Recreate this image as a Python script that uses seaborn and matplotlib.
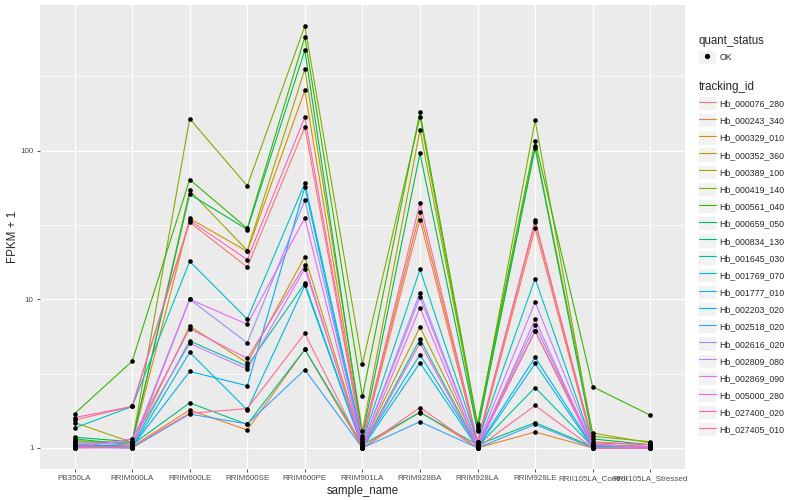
import numpy as np
import pandas as pd
import matplotlib
matplotlib.use("Agg")
import matplotlib.pyplot as plt
import seaborn as sns
from matplotlib.lines import Line2D
from matplotlib.patches import Patch
from matplotlib.legend_handler import HandlerTuple
from matplotlib.ticker import FixedLocator, NullFormatter

# ---- data (FPKM + 1) ----
samples = ["PB350LA", "RRIM600LA", "RRIM600LE", "RRIM600SE", "RRIM600PE",
           "RRIM901LA", "RRIM928BA", "RRIM928LA", "RRIM928LE",
           "RRII105LA_Control", "RRII105LA_Stressed"]

genes = ["Hb_000076_280", "Hb_000243_340", "Hb_000329_010", "Hb_000352_360",
         "Hb_000389_100", "Hb_000419_140", "Hb_000561_040", "Hb_000659_050",
         "Hb_000834_130", "Hb_001645_030", "Hb_001769_070", "Hb_001777_010",
         "Hb_002203_020", "Hb_002518_020", "Hb_002616_020", "Hb_002809_080",
         "Hb_002869_090", "Hb_005000_280", "Hb_027400_020", "Hb_027405_010"]

fpkm = [
    [1.54, 1.90, 33.0, 16.5, 144, 1.10, 34.4, 1.05, 30.0, 1.05, 1.02],
    [1.05, 1.02, 1.80, 1.32, 4.6, 1.00, 1.75, 1.00, 1.28, 1.00, 1.00],
    [1.12, 1.08, 35.0, 21.0, 255, 1.15, 38.6, 1.10, 33.0, 1.08, 1.05],
    [1.02, 1.05, 6.6, 3.74, 19.4, 1.05, 6.5, 1.05, 6.12, 1.05, 1.02],
    [1.48, 1.09, 54.0, 21.3, 354, 1.30, 138, 1.40, 107, 1.26, 1.08],
    [1.10, 1.08, 164, 58.0, 690, 3.68, 169, 1.35, 160, 1.20, 1.10],
    [1.70, 3.83, 64.0, 30.0, 582, 2.22, 181, 1.45, 116, 2.58, 1.66],
    [1.18, 1.10, 51.0, 29.5, 475, 1.20, 96.0, 1.30, 104, 1.15, 1.05],
    [1.15, 1.05, 2.01, 1.44, 4.6, 1.05, 1.73, 1.05, 1.48, 1.02, 1.00],
    [1.05, 1.02, 5.24, 3.55, 12.8, 1.02, 5.4, 1.02, 2.55, 1.02, 1.00],
    [1.36, 1.90, 18.0, 7.36, 60.5, 1.10, 15.9, 1.10, 13.8, 1.05, 1.02],
    [1.02, 1.00, 4.4, 1.80, 12.4, 1.00, 3.74, 1.00, 3.70, 1.00, 1.00],
    [1.05, 1.02, 3.27, 2.62, 57.0, 1.02, 4.24, 1.02, 4.07, 1.02, 1.00],
    [1.02, 1.00, 1.69, 1.45, 3.36, 1.00, 1.50, 1.00, 1.44, 1.00, 1.00],
    [1.08, 1.05, 10.0, 5.1, 46.5, 1.05, 11.1, 1.05, 6.67, 1.05, 1.02],
    [1.05, 1.10, 5.05, 3.39, 16.1, 1.05, 10.3, 1.05, 9.6, 1.05, 1.02],
    [1.00, 1.00, 10.0, 6.8, 35.2, 1.00, 8.8, 1.00, 7.34, 1.00, 1.00],
    [1.00, 1.15, 6.35, 4.0, 16.9, 1.00, 5.08, 1.00, 6.12, 1.00, 1.00],
    [1.60, 1.90, 34.0, 18.5, 168, 1.15, 44.5, 1.10, 34.0, 1.10, 1.05],
    [1.00, 1.02, 1.71, 1.84, 5.9, 1.00, 1.87, 1.00, 1.93, 1.00, 1.00],
]

# ggplot2 default hue palette for 20 levels
colors = ["#F8766D", "#EA8331", "#D89000", "#C09B00", "#A3A500", "#7CAE00",
          "#39B600", "#00BB4E", "#00BF7D", "#00C1A3", "#00BFC4", "#00BAE0",
          "#00B0F6", "#35A2FF", "#9590FF", "#C77CFF", "#E76BF3", "#FA62DB",
          "#FF62BC", "#FF6C91"]

rows = []
for g, vals in zip(genes, fpkm):
    for i, v in enumerate(vals):
        rows.append({"tracking_id": g, "pos": i, "sample_name": samples[i], "fpkm": v})
df = pd.DataFrame(rows)

sns.set_theme(style="darkgrid", rc={"axes.facecolor": "#EBEBEB", "grid.color": "white"})
plt.rcParams["font.family"] = ["Liberation Sans", "DejaVu Sans"]

fig, ax = plt.subplots(figsize=(8, 5), dpi=100)
fig.subplots_adjust(left=0.05, right=0.856, top=0.99, bottom=0.062)

sns.lineplot(data=df, x="pos", y="fpkm", hue="tracking_id", palette=colors,
             hue_order=genes, sort=False, lw=0.8, legend=False, ax=ax)
sns.scatterplot(data=df, x="pos", y="fpkm", color="black", s=11, marker="o",
                linewidth=0, legend=False, ax=ax, zorder=5)

ax.set_yscale("log")
lo, hi = np.log10(df["fpkm"].min()), np.log10(df["fpkm"].max())
r = hi - lo
ax.set_ylim(10 ** (lo - 0.05 * r), 10 ** (hi + 0.05 * r))
ax.set_xlim(-0.6, len(samples) - 0.4)

ax.yaxis.set_major_locator(FixedLocator([1, 10, 100]))
ax.set_yticklabels(["1", "10", "100"])
ax.yaxis.set_minor_locator(FixedLocator([10 ** 0.5, 10 ** 1.5, 10 ** 2.5]))
ax.yaxis.set_minor_formatter(NullFormatter())
ax.set_xticks(range(len(samples)))
ax.set_xticklabels(samples)

ax.grid(which="major", color="white", lw=1.0)
ax.grid(which="minor", axis="y", color="white", lw=0.5)
for s in ax.spines.values():
    s.set_visible(False)
ax.tick_params(axis="both", which="major", labelsize=5.8, labelcolor="#4D4D4D",
               color="#333333", length=2.5, width=0.6, direction="out", pad=2,
               bottom=True, left=True)
ax.tick_params(axis="y", which="minor", length=0)
ax.set_xlabel("sample_name", fontsize=8.3, labelpad=2)
ax.set_ylabel("FPKM + 1", fontsize=8.3, labelpad=1)

# ---- legends ----
key = dict(fc="#F2F2F2", ec="none")
qs_handles = [(Patch(**key), Line2D([], [], marker="o", color="black", ms=2.8, ls="none"))]
tr_handles = [(Patch(**key), Line2D([], [], color=c, lw=0.8)) for c in colors]
common = dict(loc="upper left", frameon=False, fontsize=6.3, title_fontsize=8.3,
              handlelength=1.95, handleheight=1.95, handletextpad=0.45,
              labelspacing=0.45, borderaxespad=0, alignment="left",
              handler_map={tuple: HandlerTuple(ndivide=1, pad=0)})
fig.legend(qs_handles, ["OK"], title="quant_status",
           bbox_to_anchor=(0.869, 0.937), **common)
fig.legend(tr_handles, genes, title="tracking_id",
           bbox_to_anchor=(0.869, 0.845), **common)

fig.savefig("out.png", dpi=100)
